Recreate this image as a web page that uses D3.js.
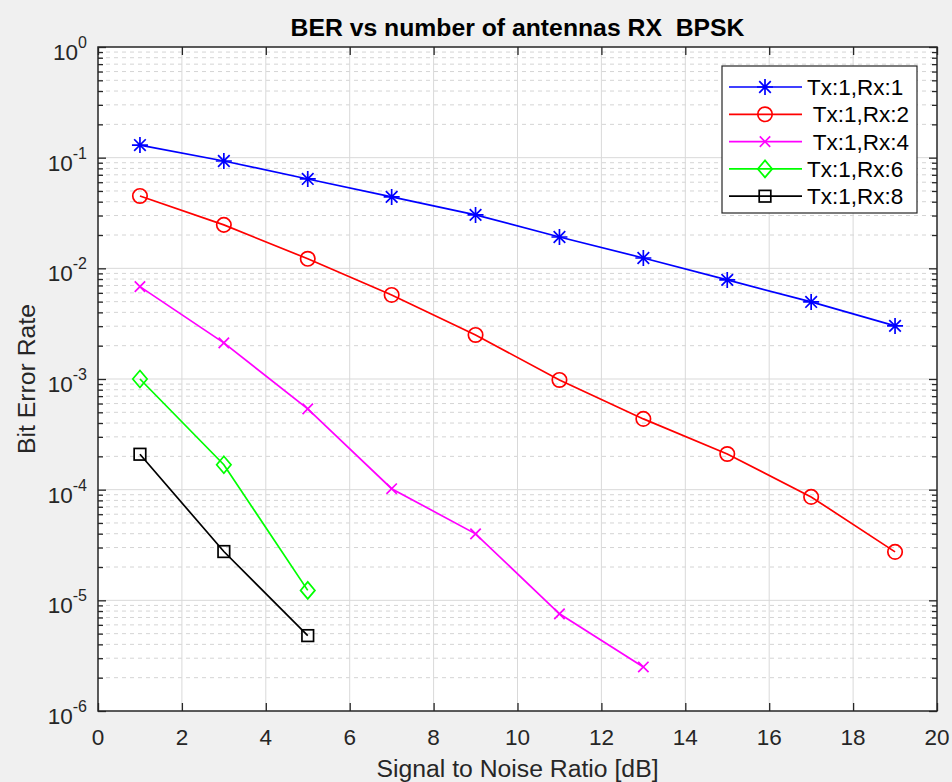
<!DOCTYPE html>
<html>
<head>
<meta charset="utf-8">
<script src="https://cdn.jsdelivr.net/npm/d3@7"></script>
<style>
  html, body { margin: 0; padding: 0; background: #f0f0f0; }
  svg { display: block; font-family: "Liberation Sans", Arial, Helvetica, sans-serif; }
  text { white-space: pre; }
</style>
</head>
<body>
<svg id="chart" width="952" height="782"></svg>
<script>
// SNR points (dB) used for each receive-antenna configuration
const snrRx1 = [1, 3, 5, 7, 9, 11, 13, 15, 17, 19];
const berRx1 = [0.130, 0.0933, 0.0642, 0.0442, 0.0304, 0.0192, 0.0124, 0.00786, 0.00497, 0.00302];

const snrRx2 = [1, 3, 5, 7, 9, 11, 13, 15, 17, 19];
const berRx2 = [0.0451, 0.0247, 0.0122, 0.00575, 0.00250, 0.00098, 0.000436, 0.000210, 0.0000860, 0.0000274];

const snrRx4 = [1, 3, 5, 7, 9, 11, 13];
const berRx4 = [0.00684, 0.00212, 0.000537, 0.000102, 0.0000399, 0.00000755, 0.0000025];

const snrRx6 = [1, 3, 5];
const berRx6 = [0.00100, 0.000168, 0.0000123];

const snrRx8 = [1, 3, 5];
const berRx8 = [0.000209, 0.0000276, 0.0000048];

const seriesNames = ["Tx:1,Rx:1", " Tx:1,Rx:2", " Tx:1,Rx:4", "Tx:1,Rx:6", "Tx:1,Rx:8"];
const seriesColors = ["#0000ff", "#ff0000", "#ff00ff", "#00ff00", "#000000"];
const seriesMarkers = ["asterisk", "circle", "cross", "diamond", "square"];

const xTicks = [0, 2, 4, 6, 8, 10, 12, 14, 16, 18, 20];
const yDecades = [0, -1, -2, -3, -4, -5, -6];

const titleText = "BER vs number of antennas RX  BPSK";
const xLabelText = "Signal to Noise Ratio [dB]";
const yLabelText = "Bit Error Rate";

const series = [
  { x: snrRx1, y: berRx1 },
  { x: snrRx2, y: berRx2 },
  { x: snrRx4, y: berRx4 },
  { x: snrRx6, y: berRx6 },
  { x: snrRx8, y: berRx8 }
].map((s, i) => ({
  name: seriesNames[i], color: seriesColors[i], marker: seriesMarkers[i],
  points: s.x.map((v, j) => [v, s.y[j]])
}));

const svg = d3.select("#chart");
const L = 98, R = 937, T = 47, B = 711;
const axisColor = "#262626";
const tickFont = 22.5, labelFont = 24.75;
const lineW = 1.7;

const x = d3.scaleLinear().domain([0, 20]).range([L, R]);
const y = d3.scaleLog().domain([1e-6, 1]).range([B, T]);

const majorY = yDecades.map(k => Math.pow(10, k));
const minorY = [];
for (let k = -6; k < 0; k++) for (let m = 2; m <= 9; m++) minorY.push(m * Math.pow(10, k));

// Background
svg.append("rect").attr("width", 952).attr("height", 782).attr("fill", "#f0f0f0");
svg.append("rect").attr("x", L).attr("y", T).attr("width", R - L).attr("height", B - T).attr("fill", "#ffffff");

// Grid
const grid = svg.append("g");
grid.selectAll(".ymin").data(minorY).join("line")
  .attr("x1", L).attr("x2", R).attr("y1", d => y(d)).attr("y2", d => y(d))
  .attr("stroke", "#d4d4d4").attr("stroke-width", 1).attr("stroke-dasharray", "4,4");
grid.selectAll(".xmaj").data(xTicks.slice(1, -1)).join("line")
  .attr("x1", d => x(d)).attr("x2", d => x(d)).attr("y1", T).attr("y2", B)
  .attr("stroke", "#d9d9d9").attr("stroke-width", 1);
grid.selectAll(".ymaj").data(majorY.slice(1, -1)).join("line")
  .attr("x1", L).attr("x2", R).attr("y1", d => y(d)).attr("y2", d => y(d))
  .attr("stroke", "#d9d9d9").attr("stroke-width", 1);

// Axes with inward ticks on all four sides
function styleAxis(g) {
  g.selectAll(".domain").remove();
  g.selectAll(".tick line").attr("stroke", axisColor).attr("stroke-width", 1.3);
  g.selectAll(".tick text").remove();
}
svg.append("g").attr("transform", `translate(0,${B})`)
  .call(d3.axisBottom(x).tickValues(xTicks).tickSize(-8).tickFormat(""))
  .call(styleAxis);
svg.append("g").attr("transform", `translate(0,${T})`)
  .call(d3.axisTop(x).tickValues(xTicks).tickSize(-8).tickFormat(""))
  .call(styleAxis);
svg.append("g").attr("transform", `translate(${L},0)`)
  .call(d3.axisLeft(y).tickValues(majorY).tickSize(-8).tickFormat(""))
  .call(styleAxis);
svg.append("g").attr("transform", `translate(${L},0)`)
  .call(d3.axisLeft(y).tickValues(minorY).tickSize(-5).tickFormat(""))
  .call(styleAxis);
svg.append("g").attr("transform", `translate(${R},0)`)
  .call(d3.axisRight(y).tickValues(majorY).tickSize(-8).tickFormat(""))
  .call(styleAxis);
svg.append("g").attr("transform", `translate(${R},0)`)
  .call(d3.axisRight(y).tickValues(minorY).tickSize(-5).tickFormat(""))
  .call(styleAxis);

// Box
svg.append("rect").attr("x", L).attr("y", T).attr("width", R - L).attr("height", B - T)
  .attr("fill", "none").attr("stroke", axisColor).attr("stroke-width", 1.5);

// Tick labels
svg.append("g").selectAll("text").data(xTicks).join("text")
  .attr("x", d => x(d)).attr("y", B + 34)
  .attr("text-anchor", "middle").attr("font-size", tickFont).attr("fill", axisColor)
  .text(d => d);

const yl = svg.append("g").selectAll("text").data(yDecades).join("text")
  .attr("x", L - 11).attr("y", d => y(Math.pow(10, d)) + 13)
  .attr("text-anchor", "end").attr("fill", axisColor);
yl.append("tspan").attr("font-size", tickFont).text("10");
yl.append("tspan").attr("font-size", 16).attr("dy", -12).text(d => d === 0 ? "0" : "-" + Math.abs(d));

// Title and axis labels
svg.append("text").attr("x", (L + R) / 2).attr("y", 36).attr("text-anchor", "middle")
  .attr("font-size", labelFont).attr("font-weight", "bold").attr("fill", "#000").text(titleText);
svg.append("text").attr("x", (L + R) / 2).attr("y", 777).attr("text-anchor", "middle")
  .attr("font-size", labelFont).attr("fill", axisColor).text(xLabelText);
svg.append("text").attr("transform", `translate(35,${(T + B) / 2}) rotate(-90)`)
  .attr("text-anchor", "middle").attr("font-size", labelFont).attr("fill", axisColor).text(yLabelText);

// Marker drawing
function drawMarker(g, type, color) {
  const common = s => s.attr("stroke", color).attr("stroke-width", lineW).attr("fill", "none");
  if (type === "asterisk") {
    const a = 8, d = 5.8;
    common(g.append("path").attr("d", `M${-a},0L${a},0M0,${-a}L0,${a}M${-d},${-d}L${d},${d}M${-d},${d}L${d},${-d}`));
  } else if (type === "circle") {
    common(g.append("circle").attr("r", 7.2));
  } else if (type === "cross") {
    const d = 5.2;
    common(g.append("path").attr("d", `M${-d},${-d}L${d},${d}M${-d},${d}L${d},${-d}`));
  } else if (type === "diamond") {
    common(g.append("path").attr("d", "M0,-8.5L7.2,0L0,8.5L-7.2,0Z"));
  } else if (type === "square") {
    common(g.append("rect").attr("x", -5.8).attr("y", -5.8).attr("width", 11.6).attr("height", 11.6));
  }
}

// Series
const lineGen = d3.line().x(d => x(d[0])).y(d => y(d[1]));
const plot = svg.append("g");
series.forEach(s => {
  plot.append("path").datum(s.points).attr("d", lineGen)
    .attr("fill", "none").attr("stroke", s.color).attr("stroke-width", lineW);
  plot.selectAll(null).data(s.points).join("g")
    .attr("transform", d => `translate(${x(d[0])},${y(d[1])})`)
    .each(function () { drawMarker(d3.select(this), s.marker, s.color); });
});

// Legend
const lg = svg.append("g").attr("transform", "translate(722,66)");
lg.append("rect").attr("width", 195).attr("height", 147)
  .attr("fill", "#ffffff").attr("stroke", axisColor).attr("stroke-width", 1.2);
series.forEach((s, i) => {
  const ry = 21 + i * 27.3;
  const row = lg.append("g").attr("transform", `translate(0,${ry})`);
  row.append("line").attr("x1", 7).attr("x2", 80).attr("y1", 0).attr("y2", 0)
    .attr("stroke", s.color).attr("stroke-width", lineW);
  drawMarker(row.append("g").attr("transform", "translate(43,0)"), s.marker, s.color);
  row.append("text").attr("x", 85).attr("y", 8).attr("font-size", tickFont)
    .attr("fill", "#000").text(s.name);
});
</script>
</body>
</html>
